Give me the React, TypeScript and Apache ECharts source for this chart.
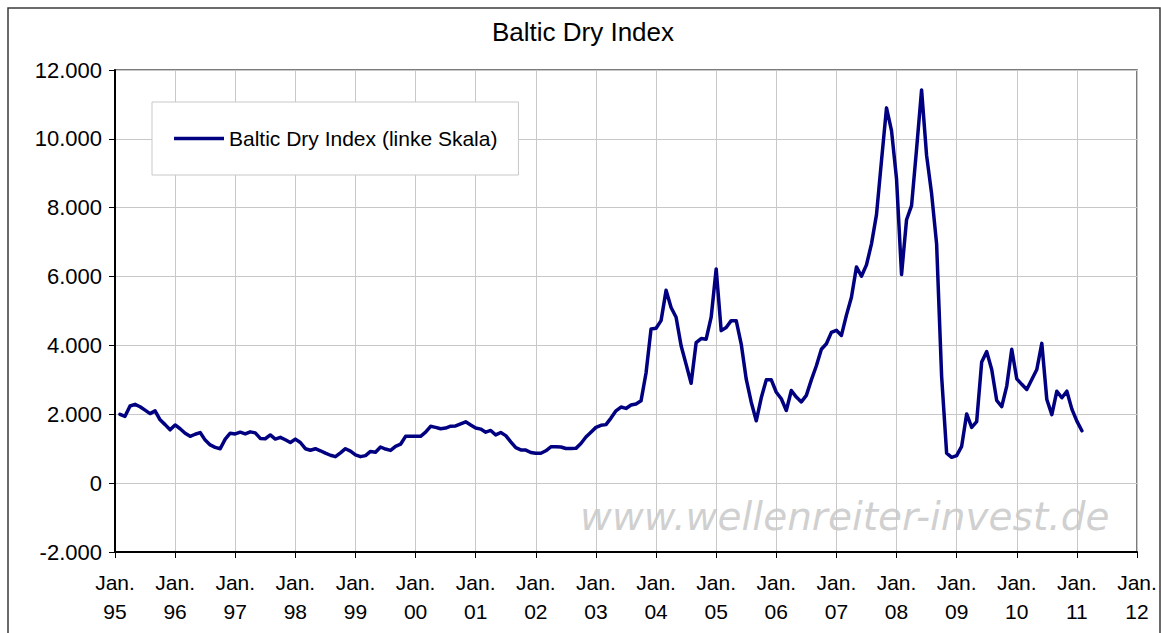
import React, { useEffect, useRef } from "react";
import * as echarts from "echarts";

// Year tick labels (x axis, one per January)
const yearLabels = ["95", "96", "97", "98", "99", "00", "01", "02", "03", "04", "05", "06", "07", "08", "09", "10", "11", "12"];

// Monthly Baltic Dry Index values
const bdi1995 = [2000, 1940, 2240, 2290, 2220, 2120, 2020, 2100, 1840, 1700, 1550, 1690];
const bdi1996 = [1580, 1450, 1360, 1420, 1470, 1250, 1110, 1040, 1000, 1280, 1450, 1430];
const bdi1997 = [1480, 1430, 1490, 1460, 1300, 1290, 1400, 1280, 1330, 1260, 1180, 1280];
const bdi1998 = [1180, 1000, 955, 1000, 940, 870, 810, 770, 880, 1000, 930, 820];
const bdi1999 = [770, 800, 920, 900, 1050, 990, 950, 1070, 1130, 1360, 1360, 1360];
const bdi2000 = [1360, 1480, 1650, 1620, 1580, 1600, 1655, 1660, 1720, 1780, 1690, 1600];
const bdi2001 = [1570, 1480, 1530, 1400, 1470, 1380, 1200, 1030, 965, 960, 890, 867];
const bdi2002 = [867, 940, 1054, 1054, 1050, 1005, 1005, 1010, 1150, 1340, 1480, 1620];
const bdi2003 = [1680, 1700, 1890, 2100, 2210, 2170, 2270, 2300, 2390, 3200, 4480, 4500];
const bdi2004 = [4720, 5600, 5100, 4820, 3990, 3450, 2900, 4080, 4200, 4180, 4820, 6220];
const bdi2005 = [4430, 4520, 4720, 4720, 4040, 3020, 2350, 1810, 2480, 3000, 3000, 2640];
const bdi2006 = [2450, 2110, 2690, 2500, 2360, 2550, 3000, 3410, 3890, 4050, 4380, 4440];
const bdi2007 = [4290, 4880, 5400, 6280, 6010, 6340, 6950, 7800, 9370, 10900, 10240, 8840];
const bdi2008 = [6060, 7650, 8060, 9700, 11420, 9520, 8410, 6950, 3100, 870, 750, 800];
const bdi2009 = [1070, 2010, 1620, 1790, 3520, 3820, 3300, 2400, 2220, 2820, 3890, 3030];
const bdi2010 = [2870, 2720, 3010, 3300, 4060, 2430, 1990, 2670, 2480, 2670, 2150, 1800];
const bdi2011 = [1520];

const seriesName = "Baltic Dry Index (linke Skala)";
const chartTitle = "Baltic Dry Index";
const watermark = "www.wellenreiter-invest.de";

const allValues = [
  ...bdi1995, ...bdi1996, ...bdi1997, ...bdi1998, ...bdi1999, ...bdi2000,
  ...bdi2001, ...bdi2002, ...bdi2003, ...bdi2004, ...bdi2005, ...bdi2006,
  ...bdi2007, ...bdi2008, ...bdi2009, ...bdi2010, ...bdi2011,
];

function fmtThousands(v: number): string {
  const neg = v < 0;
  const s = Math.abs(Math.round(v)).toString().replace(/\B(?=(\d{3})+(?!\d))/g, ".");
  return (neg ? "-" : "") + s;
}

export default function App() {
  const ref = useRef<HTMLDivElement>(null);

  useEffect(() => {
    if (!ref.current) return;
    const chart = echarts.init(ref.current, undefined, { renderer: "svg" });
    const font = "'Liberation Sans', Arial, sans-serif";
    const data = allValues.map((v, i) => [i + 1, v]);

    chart.setOption({
      animation: false,
      backgroundColor: "#ffffff",
      title: {
        text: chartTitle,
        left: 578,
        textAlign: "center",
        top: 14,
        textStyle: { fontFamily: font, fontSize: 26, fontWeight: "normal", color: "#000" },
      },
      legend: {
        left: 152,
        top: 102,
        orient: "horizontal",
        padding: [25, 21, 25, 22],
        itemWidth: 50,
        itemHeight: 3.5,
        icon: "rect",
        backgroundColor: "#ffffff",
        borderColor: "#c8c8c8",
        borderWidth: 1,
        borderRadius: 0,
        textStyle: { fontFamily: font, fontSize: 21, color: "#000", lineHeight: 23 },
        data: [{ name: seriesName, icon: "rect", itemStyle: { color: "#000080" } }],
      },
      grid: {
        left: 115,
        top: 70,
        right: 24,
        bottom: 81,
        show: true,
        borderColor: "#505050",
        borderWidth: 1.5,
        backgroundColor: "transparent",
      },
      graphic: [
        {
          type: "rect",
          shape: { x: 8, y: 8, width: 1152, height: 700 },
          style: { fill: "none", stroke: "#3a3a3a", lineWidth: 1.5 },
          silent: true,
          z: 100,
        },
        {
          type: "text",
          left: 580,
          top: 497,
          z: -1,
          style: {
            text: watermark,
            fill: "rgba(200,200,200,0.85)",
            font: "oblique 39px 'DejaVu Sans', Verdana, sans-serif",
          },
          silent: true,
        },
      ],
      xAxis: {
        type: "value",
        min: 0,
        max: 204,
        interval: 12,
        axisLine: { show: true, onZero: false, lineStyle: { color: "#000", width: 2 } },
        axisTick: { show: true, inside: false, length: 6, lineStyle: { color: "#000", width: 1 } },
        splitLine: { show: true, lineStyle: { color: "#c8c8c8", width: 1 } },
        axisLabel: {
          fontFamily: font,
          fontSize: 21,
          color: "#000",
          lineHeight: 29,
          margin: 16,
          formatter: (v: number) => {
            const idx = Math.round(v / 12);
            return "Jan.\n" + (yearLabels[idx] ?? "");
          },
        },
      },
      yAxis: {
        type: "value",
        min: -2000,
        max: 12000,
        interval: 2000,
        axisLine: { show: true, onZero: false, lineStyle: { color: "#000", width: 2 } },
        axisTick: { show: true, inside: false, length: 6, lineStyle: { color: "#000", width: 1 } },
        splitLine: { show: true, lineStyle: { color: "#c8c8c8", width: 1 } },
        axisLabel: {
          fontFamily: font,
          fontSize: 22,
          color: "#000",
          margin: 13,
          formatter: (v: number) => fmtThousands(v),
        },
      },
      series: [
        {
          name: seriesName,
          type: "line",
          data,
          symbol: "none",
          showSymbol: false,
          lineStyle: { color: "#000080", width: 3.5, cap: "round", join: "round" },
          itemStyle: { color: "#000080" },
          z: 3,
        },
      ],
    });

    return () => {
      chart.dispose();
    };
  }, []);

  return (
    <div
      ref={ref}
      style={{ position: "fixed", left: 0, top: 0, width: 1161, height: 633 }}
    />
  );
}
